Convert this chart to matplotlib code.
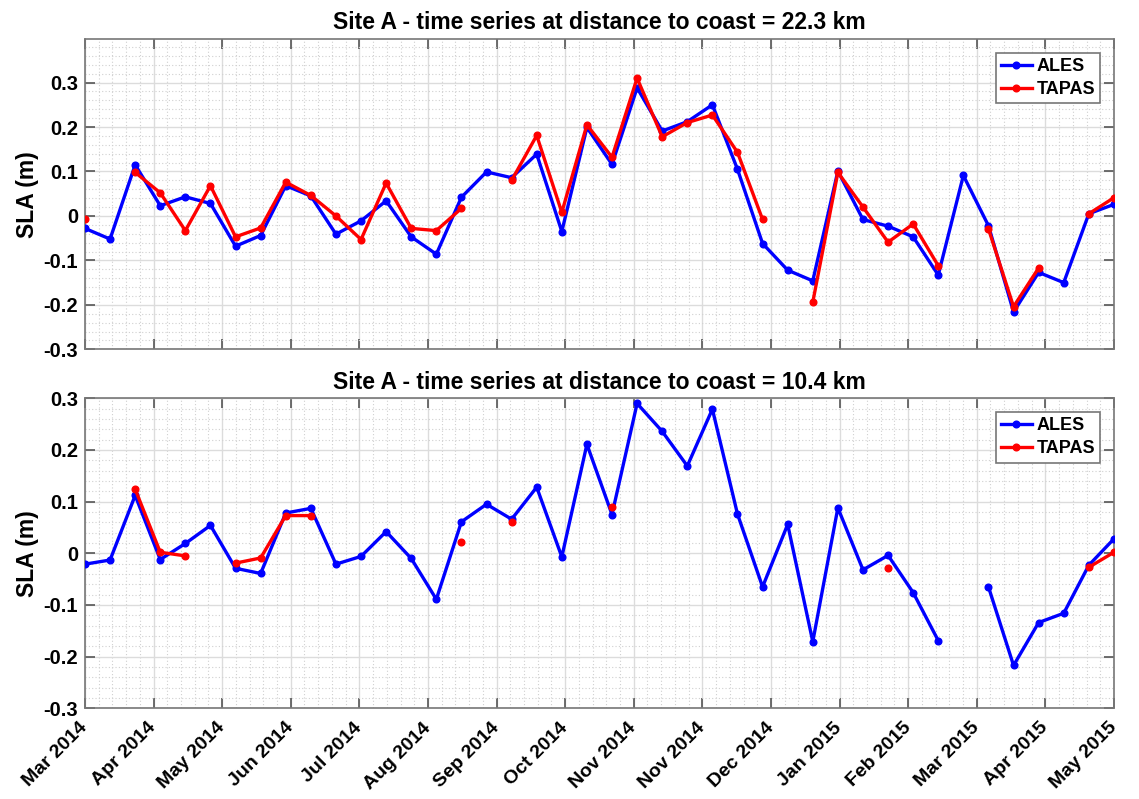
import numpy as np
import matplotlib
matplotlib.use('Agg')
import matplotlib.pyplot as plt
import matplotlib.dates as mdates
import matplotlib.transforms as mtransforms
from matplotlib.ticker import AutoMinorLocator
from datetime import datetime, timedelta

nan = np.nan

# Jason-2 repeat cycle, first pass over the site
first_pass = datetime(2014, 3, 30, 12)
cycle_days = 9.9156
n_cycles = 42

# SLA (m) at 22.3 km from the coast
ales_22 = [-0.028, -0.052, 0.115, 0.023, 0.043, 0.028, -0.068, -0.044, 0.068, 0.045,
           -0.041, -0.011, 0.034, -0.047, -0.086, 0.042, 0.099, 0.086, 0.139, -0.035,
           0.199, 0.116, 0.288, 0.191, 0.212, 0.250, 0.105, -0.062, -0.122, -0.146,
           0.101, -0.008, -0.023, -0.047, -0.133, 0.091, -0.022, -0.216, -0.127, -0.150,
           0.005, 0.026]
tapas_22 = [-0.008, nan, 0.098, 0.052, -0.033, 0.068, -0.047, -0.027, 0.076, 0.046,
            0.000, -0.053, 0.074, -0.028, -0.033, 0.017, nan, 0.080, 0.181, 0.008,
            0.205, 0.132, 0.310, 0.178, 0.210, 0.227, 0.143, -0.008, nan, -0.194,
            0.098, 0.020, -0.059, -0.018, -0.112, nan, -0.029, -0.204, -0.117, nan,
            0.005, 0.041]

# SLA (m) at 10.4 km from the coast
ales_10 = [-0.021, -0.013, 0.112, -0.012, 0.019, 0.054, -0.029, -0.039, 0.078, 0.087,
           -0.021, -0.006, 0.042, -0.010, -0.089, 0.061, 0.095, 0.066, 0.128, -0.007,
           0.211, 0.075, 0.290, 0.236, 0.169, 0.279, 0.076, -0.065, 0.056, -0.171,
           0.088, -0.032, -0.004, -0.076, -0.169, nan, -0.065, -0.217, -0.134, -0.116,
           -0.023, 0.028]
tapas_10 = [nan, nan, 0.124, 0.002, -0.005, nan, -0.019, -0.009, 0.073, 0.073,
            nan, nan, nan, nan, nan, 0.022, nan, 0.060, nan, nan,
            nan, 0.090, nan, nan, nan, nan, nan, nan, nan, nan,
            nan, nan, -0.028, nan, nan, nan, nan, nan, nan, nan,
            -0.027, 0.002]

distances = [22.3, 10.4]
ytick_vals = [-0.3, -0.2, -0.1, 0, 0.1, 0.2, 0.3]
ytick_labels = ['-0.3', '-0.2', '-0.1', '0', '0.1', '0.2', '0.3']

dates = [first_pass + timedelta(days=cycle_days * k) for k in range(n_cycles)]

plt.rcParams['font.family'] = ['Liberation Sans', 'DejaVu Sans']
plt.rcParams['font.weight'] = 'bold'

fig = plt.figure(figsize=(11.39, 7.99), dpi=100)
ax1 = fig.add_axes([0.0746, 0.5628, 0.9034, 0.3884])
ax2 = fig.add_axes([0.0746, 0.1135, 0.9034, 0.3880])

panels = [(ax1, ales_22, tapas_22, (-0.3, 0.398)),
          (ax2, ales_10, tapas_10, (-0.3, 0.3))]

xnum = mdates.date2num(dates)
xticks = np.linspace(xnum[0], xnum[-1], 16)

for (ax, ales, tapas, ylim), dist in zip(panels, distances):
    ax.plot(dates, ales, '-o', color='blue', lw=2.4, ms=4.8, label='ALES', zorder=3)
    ax.plot(dates, tapas, '-o', color='red', lw=2.4, ms=4.8, label='TAPAS', zorder=4)
    ax.set_xlim(xnum[0], xnum[-1])
    ax.set_ylim(*ylim)
    ax.set_xticks(xticks)
    ax.xaxis.set_major_formatter(mdates.DateFormatter('%b %Y'))
    ax.xaxis.set_minor_locator(AutoMinorLocator(5))
    ax.set_yticks(ytick_vals)
    ax.set_yticklabels(ytick_labels)
    ax.yaxis.set_minor_locator(AutoMinorLocator(5))
    ax.grid(which='major', color='#dcdcdc', lw=1.0, ls='-', zorder=0)
    ax.grid(which='minor', color='#d0d0d0', lw=0.8, ls=(0, (1, 2)), zorder=0)
    ax.set_axisbelow(True)
    ax.tick_params(which='major', direction='in', length=7, width=1.2, color='#555555',
                   top=True, right=True, labelsize=14.5, pad=5)
    ax.tick_params(which='minor', length=0, top=True, right=True)
    for s in ax.spines.values():
        s.set_color('#777777')
        s.set_linewidth(1.2)
    ax.set_ylabel('SLA (m)', fontsize=16.5, fontweight='bold', labelpad=3)
    ax.set_title('Site A - time series at distance to coast = %.1f km' % dist,
                 fontsize=16.5, fontweight='bold', pad=7)
    leg = ax.legend(loc='upper right', fontsize=13, frameon=True, fancybox=False,
                    framealpha=1, edgecolor='#777777', handlelength=1.7,
                    borderpad=0.3, labelspacing=0.33, handletextpad=0.25,
                    borderaxespad=0.75)
    leg.get_frame().set_linewidth(1.2)
    for t in leg.get_texts():
        t.set_fontweight('bold')

ax1.tick_params(axis='x', labelbottom=False)

# rotated date labels, nudged so their upper end sits under the tick
nudge = mtransforms.ScaledTranslation(-6 / 100, -4 / 100, fig.dpi_scale_trans)
for lab in ax2.get_xticklabels():
    lab.set_rotation(45)
    lab.set_ha('right')
    lab.set_rotation_mode('anchor')
    lab.set_fontsize(14)
    lab.set_transform(lab.get_transform() + nudge)

fig.savefig('out.png', dpi=100)
